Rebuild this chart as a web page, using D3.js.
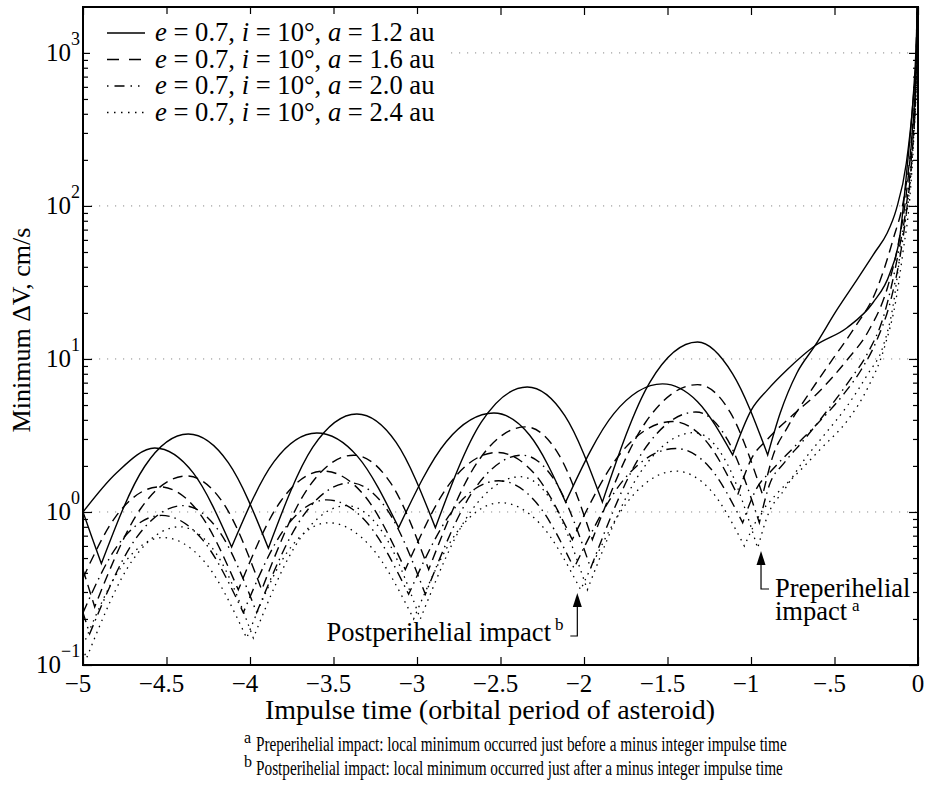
<!DOCTYPE html>
<html>
<head>
<meta charset="utf-8">
<script src="https://cdn.jsdelivr.net/npm/d3@7"></script>
<style>
  body { margin: 0; background: #fff; }
  text { font-family: "Liberation Serif", "Times New Roman", serif; fill: #000; }
</style>
</head>
<body>
<svg id="chart" width="927" height="787"></svg>
<script>
// ---- axis ticks and labels ----
const xTicks = [-5, -4.5, -4, -3.5, -3, -2.5, -2, -1.5, -1, -0.5, 0];
const xTickLabels = ["\u22125", "\u22124.5", "\u22124", "\u22123.5", "\u22123", "\u22122.5", "\u22122", "\u22121.5", "\u22121", "\u2212.5", "0"];
const yDecades = [0.1, 1, 10, 100, 1000];
const yExponents = ["\u22121", "0", "1", "2", "3"];
const yGridDecades = [1, 10, 100, 1000];

// ---- legend ----
const legendSemiMajor = ["1.2", "1.6", "2.0", "2.4"];

// ---- minimum delta-V (cm/s) vs impulse time, two branches per orbit ----
// a = 1.2 au
const a12Pre = [[-5.00,1.00],[-4.80,1.80],[-4.57,2.62],[-4.34,1.80],[-4.11,0.59],[-3.855,2.14],[-3.60,3.28],[-3.355,2.30],[-3.11,0.79],[-2.825,2.88],[-2.54,4.43],[-2.325,3.17],[-2.11,1.16],[-1.82,4.41],[-1.53,6.87],[-1.32,5.26],[-1.11,2.36],[-1.00,4.6],[-0.90,6.3],[-0.784,8.5],[-0.617,12.2],[-0.425,16],[-0.27,23.3],[-0.168,36.5],[-0.108,64],[-0.066,175],[-0.03,490],[-0.01,1200],[-0.003,2200]];
const a12Post = [[-5.00,1.00],[-4.95,0.70],[-4.89,0.46],[-4.63,1.99],[-4.37,3.23],[-4.13,2.10],[-3.89,0.58],[-3.625,2.64],[-3.36,4.37],[-3.125,2.85],[-2.89,0.79],[-2.615,3.86],[-2.34,6.56],[-2.115,4.26],[-1.89,1.16],[-1.605,7.06],[-1.32,12.9],[-1.11,8.0],[-0.90,2.36],[-0.826,4.4],[-0.725,8.1],[-0.617,12.2],[-0.485,21],[-0.365,33],[-0.257,50],[-0.186,66],[-0.13,95],[-0.07,190],[-0.03,480],[-0.01,1000],[-0.003,2200]];
// a = 1.6 au
const a16Pre = [[-5.00,0.37],[-4.805,0.93],[-4.54,1.46],[-4.305,0.99],[-4.07,0.31],[-3.815,1.18],[-3.56,1.85],[-3.315,1.28],[-3.07,0.42],[-2.795,1.58],[-2.52,2.45],[-2.295,1.77],[-2.07,0.66],[-1.77,2.50],[-1.47,3.9],[-1.275,2.96],[-1.08,1.29],[-1.0,2.2],[-0.9,3.0],[-0.75,4.3],[-0.6,6.0],[-0.42,10],[-0.3,15],[-0.18,30],[-0.12,55],[-0.07,120],[-0.035,300],[-0.012,800],[-0.003,2500]];
const a16Post = [[-5.00,0.42],[-4.93,0.24],[-4.655,1.05],[-4.38,1.72],[-4.155,1.12],[-3.93,0.31],[-3.655,1.42],[-3.38,2.35],[-3.155,1.53],[-2.93,0.42],[-2.64,2.10],[-2.35,3.6],[-2.15,2.36],[-1.95,0.66],[-1.635,3.80],[-1.32,6.8],[-1.125,4.49],[-0.93,1.29],[-0.87,2.3],[-0.78,3.6],[-0.65,6.0],[-0.51,10],[-0.38,16],[-0.25,28],[-0.15,60],[-0.08,120],[-0.04,260],[-0.015,700],[-0.003,2500]];
// a = 2.0 au
const a20Pre = [[-5.00,0.22],[-4.79,0.61],[-4.53,0.95],[-4.285,0.66],[-4.04,0.22],[-3.79,0.785],[-3.54,1.2],[-3.295,0.84],[-3.05,0.29],[-2.78,1.04],[-2.51,1.6],[-2.285,1.15],[-2.06,0.43],[-1.755,1.66],[-1.45,2.6],[-1.25,1.97],[-1.05,0.85],[-0.97,1.4],[-0.87,1.9],[-0.75,2.6],[-0.6,3.8],[-0.45,5.8],[-0.34,8.5],[-0.25,13],[-0.16,25],[-0.11,45],[-0.07,90],[-0.035,220],[-0.012,650],[-0.003,2500]];
const a20Post = [[-5.00,0.22],[-4.96,0.16],[-4.68,0.68],[-4.40,1.1],[-4.18,0.735],[-3.96,0.22],[-3.68,0.95],[-3.40,1.55],[-3.175,1.02],[-2.95,0.29],[-2.66,1.39],[-2.37,2.35],[-2.165,1.54],[-1.96,0.43],[-1.645,2.50],[-1.33,4.5],[-1.14,2.96],[-0.95,0.85],[-0.89,1.5],[-0.8,2.1],[-0.69,2.9],[-0.55,4.5],[-0.4,7.5],[-0.31,10.5],[-0.2,20],[-0.12,48],[-0.07,100],[-0.035,240],[-0.012,650],[-0.003,2500]];
// a = 2.4 au
const a24Pre = [[-5.00,0.134],[-4.775,0.43],[-4.52,0.68],[-4.27,0.47],[-4.02,0.15],[-3.775,0.55],[-3.53,0.85],[-3.275,0.59],[-3.02,0.20],[-2.76,0.74],[-2.50,1.15],[-2.26,0.83],[-2.02,0.31],[-1.735,1.18],[-1.45,1.85],[-1.245,1.40],[-1.04,0.60],[-0.95,0.95],[-0.85,1.3],[-0.72,1.8],[-0.58,2.6],[-0.42,4.0],[-0.3,6.5],[-0.2,12],[-0.13,25],[-0.09,50],[-0.05,110],[-0.025,280],[-0.008,800],[-0.002,2500]];
const a24Post = [[-5.00,0.13],[-4.98,0.11],[-4.70,0.49],[-4.42,0.8],[-4.20,0.53],[-3.98,0.15],[-3.70,0.67],[-3.42,1.1],[-3.20,0.72],[-2.98,0.20],[-2.68,1.0],[-2.38,1.7],[-2.18,1.11],[-1.98,0.31],[-1.66,1.83],[-1.34,3.3],[-1.15,2.14],[-0.96,0.58],[-0.9,0.95],[-0.8,1.4],[-0.68,2.2],[-0.56,3.2],[-0.42,5.0],[-0.3,8.0],[-0.21,12],[-0.15,22],[-0.096,60],[-0.05,130],[-0.025,300],[-0.008,800],[-0.002,2500]];

const lineStyles = {
  solid:   null,
  dashed:  "10,6",
  dashdot: "10,5,1.5,5",
  dotted:  "1.5,5"
};
const legendDash = { solid: null, dashed: "12,10", dashdot: "1.5,6,10,6,1.5,6", dotted: "1.5,5.5" };
const seriesList = [
  { style: "solid",   branches: [a12Pre, a12Post] },
  { style: "dashed",  branches: [a16Pre, a16Post] },
  { style: "dashdot", branches: [a20Pre, a20Post] },
  { style: "dotted",  branches: [a24Pre, a24Post] }
];

// ---- layout ----
const svg = d3.select("#chart");
const plot = { left: 83, right: 918, top: 7, bottom: 665 };

const x = d3.scaleLinear().domain([-5, 0]).range([plot.left, plot.right]);
const y = d3.scaleLog().domain([0.1, Math.pow(10, 3.3)]).range([plot.bottom, plot.top]);

svg.append("defs").append("clipPath").attr("id", "plotClip")
  .append("rect")
  .attr("x", plot.left).attr("y", plot.top)
  .attr("width", plot.right - plot.left).attr("height", plot.bottom - plot.top);

// horizontal dotted grid at each decade
svg.append("g").selectAll("line").data(yGridDecades).join("line")
  .attr("x1", plot.left).attr("x2", plot.right)
  .attr("y1", d => y(d)).attr("y2", d => y(d))
  .attr("stroke", "#8a8a8a").attr("stroke-width", 1)
  .attr("stroke-dasharray", "1.2,6.8");

// ---- curves: each branch is split at its cusps so minima stay sharp ----
const lineGen = d3.line()
  .x(d => x(d[0])).y(d => y(d[1]))
  .curve(d3.curveMonotoneX);

function branchPath(pts) {
  const cuts = [0];
  for (let i = 1; i < pts.length - 1; i++) {
    if (pts[i][1] < pts[i - 1][1] && pts[i][1] < pts[i + 1][1]) cuts.push(i);
  }
  cuts.push(pts.length - 1);
  let d = "";
  for (let k = 0; k < cuts.length - 1; k++) {
    const seg = lineGen(pts.slice(cuts[k], cuts[k + 1] + 1));
    d += k === 0 ? seg : seg.replace(/^M[^A-Za-z]*/, "");
  }
  return d;
}

const curveLayer = svg.append("g").attr("clip-path", "url(#plotClip)");
seriesList.forEach(s => {
  s.branches.forEach(b => {
    curveLayer.append("path")
      .attr("d", branchPath(b))
      .attr("fill", "none")
      .attr("stroke", "#000")
      .attr("stroke-width", s.style === "dotted" ? 1.3 : 1.4)
      .attr("stroke-dasharray", lineStyles[s.style]);
  });
});

// ---- axes (ticks inward on all four sides) ----
const yMax = Math.pow(10, 3.3);
const minorTicks = [];
yDecades.forEach(dec => { for (let m = 2; m <= 9; m++) { const v = dec * m; if (v < yMax) minorTicks.push(v); } });

function styleAxis(g) {
  g.select(".domain").remove();
  g.selectAll(".tick line").attr("stroke", "#000").attr("stroke-width", 1.2);
  g.selectAll(".tick text").remove();
}

svg.append("g").attr("transform", `translate(0,${plot.bottom})`)
  .call(d3.axisBottom(x).tickValues(xTicks).tickSize(-8).tickFormat("")).call(styleAxis);
svg.append("g").attr("transform", `translate(0,${plot.top})`)
  .call(d3.axisTop(x).tickValues(xTicks).tickSize(-8).tickFormat("")).call(styleAxis);
svg.append("g").attr("transform", `translate(${plot.left},0)`)
  .call(d3.axisLeft(y).tickValues(yDecades).tickSize(-9).tickFormat("")).call(styleAxis);
svg.append("g").attr("transform", `translate(${plot.left},0)`)
  .call(d3.axisLeft(y).tickValues(minorTicks).tickSize(-5).tickFormat("")).call(styleAxis);
svg.append("g").attr("transform", `translate(${plot.right},0)`)
  .call(d3.axisRight(y).tickValues(yDecades).tickSize(-9).tickFormat("")).call(styleAxis);
svg.append("g").attr("transform", `translate(${plot.right},0)`)
  .call(d3.axisRight(y).tickValues(minorTicks).tickSize(-5).tickFormat("")).call(styleAxis);

// frame
svg.append("rect")
  .attr("x", plot.left).attr("y", plot.top)
  .attr("width", plot.right - plot.left).attr("height", plot.bottom - plot.top)
  .attr("fill", "none").attr("stroke", "#000").attr("stroke-width", 2);

// x tick labels
svg.append("g").selectAll("text").data(xTicks).join("text")
  .attr("x", d => x(d) - (d === 0 ? 0 : 5))
  .attr("y", 692)
  .attr("text-anchor", "middle")
  .attr("font-size", 25)
  .text((d, i) => xTickLabels[i]);

// y tick labels: 10 with superscript exponent
const yLab = svg.append("g").selectAll("g").data(yDecades).join("g");
const expStart = (i) => 80 - (yExponents[i].length > 1 ? 19 : 9);
yLab.append("text")
  .attr("x", (d, i) => expStart(i))
  .attr("y", d => y(d) + 8)
  .attr("text-anchor", "end")
  .attr("font-size", 25)
  .text("10");
yLab.append("text")
  .attr("x", (d, i) => expStart(i))
  .attr("y", d => y(d) - 8)
  .attr("text-anchor", "start")
  .attr("font-size", 18)
  .text((d, i) => yExponents[i]);

// axis titles
svg.append("text")
  .attr("x", 490).attr("y", 719)
  .attr("text-anchor", "middle").attr("font-size", 28)
  .text("Impulse time (orbital period of asteroid)");
svg.append("text")
  .attr("transform", "translate(30,330) rotate(-90)")
  .attr("text-anchor", "middle").attr("font-size", 26)
  .text("Minimum \u0394V, cm/s");

// ---- legend ----
const legend = svg.append("g");
legend.append("rect").attr("x", 90).attr("y", 14).attr("width", 356).attr("height", 112).attr("fill", "#fff");
seriesList.forEach((s, i) => {
  const ly = 33 + i * 26.5;
  legend.append("line")
    .attr("x1", 107).attr("x2", 145).attr("y1", ly).attr("y2", ly)
    .attr("stroke", "#000").attr("stroke-width", 1.4)
    .attr("stroke-dasharray", legendDash[s.style]);
  const t = legend.append("text").attr("x", 155).attr("y", ly + 8).attr("font-size", 26.6);
  t.append("tspan").attr("font-style", "italic").text("e");
  t.append("tspan").text(" = 0.7, ");
  t.append("tspan").attr("font-style", "italic").text("i");
  t.append("tspan").text(" = 10\u00b0, ");
  t.append("tspan").attr("font-style", "italic").text("a");
  t.append("tspan").text(` = ${legendSemiMajor[i]} au`);
});

// ---- annotations ----
function arrowHead(g, xTip, yTip) {
  g.append("path")
    .attr("d", `M${xTip},${yTip} L${xTip - 4.5},${yTip + 14} L${xTip + 4.5},${yTip + 14} Z`)
    .attr("fill", "#000");
}
const ann = svg.append("g");
// postperihelial
const postX = x(-2.04);
arrowHead(ann, postX, 593);
ann.append("path").attr("d", `M${postX},605 V636 H${postX - 7}`).attr("fill", "none").attr("stroke", "#000").attr("stroke-width", 1.2);
ann.append("text").attr("x", 551).attr("y", 641).attr("text-anchor", "end").attr("font-size", 26.5).text("Postperihelial impact");
ann.append("text").attr("x", 555).attr("y", 630).attr("font-size", 17).text("b");
// preperihelial
const preX = x(-0.94);
arrowHead(ann, preX, 551);
ann.append("path").attr("d", `M${preX},563 V589 H${preX + 8}`).attr("fill", "none").attr("stroke", "#000").attr("stroke-width", 1.2);
ann.append("text").attr("x", 775).attr("y", 597).attr("font-size", 26.5).text("Preperihelial");
ann.append("text").attr("x", 775).attr("y", 620).attr("font-size", 26.5).text("impact");
ann.append("text").attr("x", 852).attr("y", 611).attr("font-size", 17).text("a");

// ---- footnotes (horizontally condensed face) ----
const notes = [
  ["a", "Preperihelial impact: local minimum occurred just before a minus integer impulse time", 531],
  ["b", "Postperihelial impact: local minimum occurred just after a minus integer impulse time", 527]
];
notes.forEach((n, i) => {
  const by = 751 + i * 24;
  svg.append("text").attr("x", 244).attr("y", by - 8).attr("font-size", 16).text(n[0]);
  const g = svg.append("g");
  const t = g.append("text").attr("x", 0).attr("y", 0).attr("font-size", 20.5).text(n[1]);
  const natural = t.node().getComputedTextLength() || 718;
  g.attr("transform", `translate(256,${by}) scale(${n[2] / natural},1)`);
});
</script>
</body>
</html>
